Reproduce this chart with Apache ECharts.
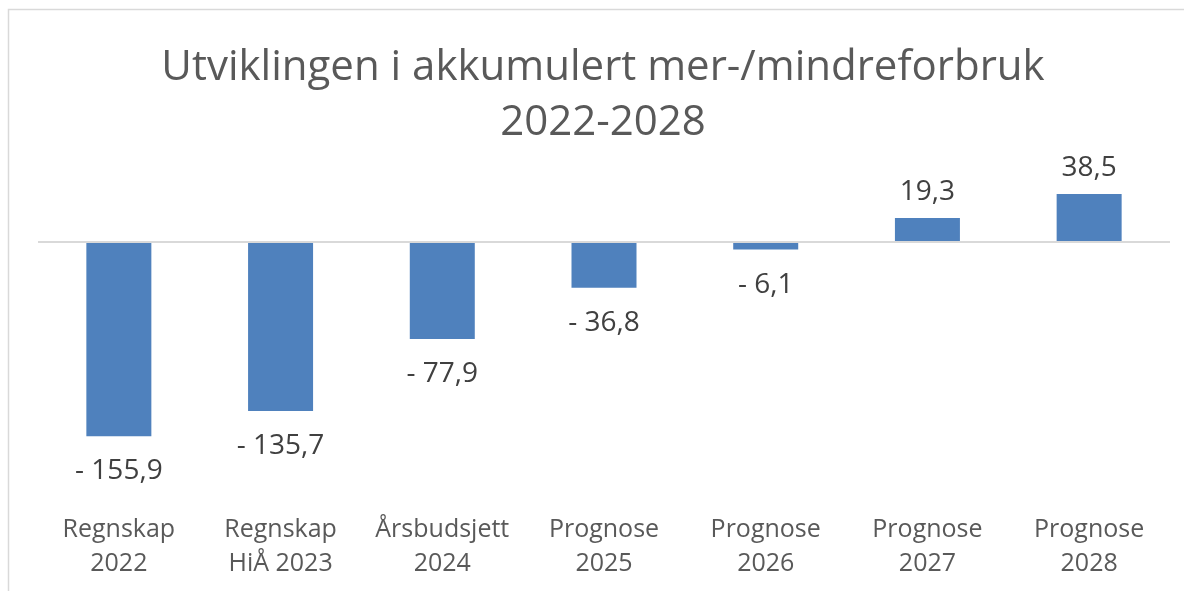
<!DOCTYPE html>
<html>
<head>
<meta charset="utf-8">
<script src="https://cdn.jsdelivr.net/npm/echarts@6/dist/echarts.min.js"></script>
<style>
  html, body { margin: 0; padding: 0; background: #fff; }
  #chart { width: 1184px; height: 591px; }
</style>
</head>
<body>
<div id="chart"></div>
<script>
// kategorier og verdier (mill. kr)
const categories = ['Regnskap\n2022', 'Regnskap\nHiÅ 2023', 'Årsbudsjett\n2024', 'Prognose\n2025', 'Prognose\n2026', 'Prognose\n2027', 'Prognose\n2028'];
const values = [-155.9, -135.7, -77.9, -36.8, -6.1, 19.3, 38.5];

const FONT = '"Open Sans", "Noto Sans", sans-serif';

function fmt(v) {
  const s = Math.abs(v).toFixed(1).replace('.', ',');
  return v < 0 ? '- ' + s : s;
}

const chart = echarts.init(document.getElementById('chart'), null, { renderer: 'canvas' });

chart.setOption({
  backgroundColor: '#fff',
  animation: false,
  title: {
    text: 'Utviklingen i akkumulert mer-/mindreforbruk\n2022-2028',
    left: 598,
    textAlign: 'center',
    top: 36,
    textStyle: {
      fontFamily: FONT,
      fontSize: 42,
      fontWeight: 'normal',
      color: '#595959',
      lineHeight: 55
    }
  },
  graphic: [{
    type: 'rect',
    shape: { x: 8.5, y: 9.5, width: 1200, height: 600 },
    style: { fill: 'none', stroke: '#d9d9d9', lineWidth: 1.5 },
    silent: true
  }],
  grid: { left: 38, right: 14, top: 179.7, bottom: 591 - 491.2 },
  xAxis: {
    type: 'category',
    data: categories,
    axisLine: { show: false, onZero: false },
    axisTick: { show: false },
    axisLabel: {
      interval: 0,
      margin: 22,
      fontFamily: FONT,
      fontSize: 25,
      lineHeight: 34,
      color: '#595959'
    }
  },
  yAxis: {
    type: 'value',
    min: -200,
    max: 50,
    show: false,
    splitLine: { show: false }
  },
  series: [{
    type: 'bar',
    data: values.map(v => ({
      value: v,
      label: { position: v < 0 ? 'bottom' : 'top', distance: v < 0 ? 21 : 12 }
    })),
    barWidth: 65,
    itemStyle: { color: '#4f81bd' },
    label: {
      show: true,
      fontFamily: FONT,
      fontSize: 28,
      color: '#404040',
      formatter: p => fmt(p.value)
    },
    markLine: {
      silent: true,
      symbol: 'none',
      label: { show: false },
      lineStyle: { color: '#d9d9d9', width: 2, type: 'solid' },
      data: [{ yAxis: 0 }]
    }
  }]
});
</script>
</body>
</html>
